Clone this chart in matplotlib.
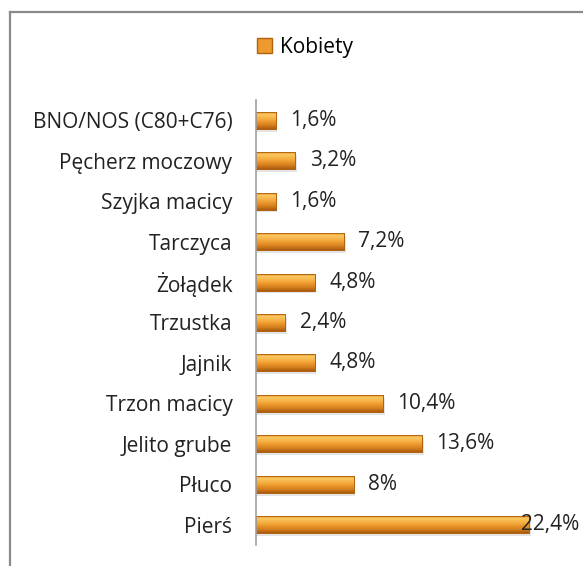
import matplotlib
matplotlib.use("Agg")
import matplotlib.pyplot as plt
import numpy as np
from matplotlib.lines import Line2D
from matplotlib.patches import Patch
from matplotlib.colors import LinearSegmentedColormap

categories = ["BNO/NOS (C80+C76)", "Pęcherz moczowy", "Szyjka macicy", "Tarczyca",
              "Żołądek", "Trzustka", "Jajnik", "Trzon macicy", "Jelito grube",
              "Płuco", "Pierś"]
values = [1.6, 3.2, 1.6, 7.2, 4.8, 2.4, 4.8, 10.4, 13.6, 8.0, 22.4]
value_labels = ["1,6%", "3,2%", "1,6%", "7,2%", "4,8%", "2,4%", "4,8%", "10,4%",
                "13,6%", "8%", "22,4%"]
series_name = "Kobiety"

plt.rcParams['font.family'] = ['Open Sans', 'DejaVu Sans']
W, H = 583, 566
fig = plt.figure(figsize=(W / 100, H / 100), dpi=100)
left, right = 256 / W, 579 / W
top, bottom = 1 - 100 / H, 1 - 545 / H
ax = fig.add_axes([left, bottom, right - left, top - bottom])

n = len(categories)
ys = list(range(n))[::-1]  # first category at top
bh = 0.42
fs = 15

# soft shadow
ax.barh([y - 0.07 for y in ys], [v + 0.15 for v in values], height=bh,
        color='#cfcfcf', alpha=0.55, zorder=1, linewidth=0)
bars = ax.barh(ys, values, height=bh, color='#EE9A2E', edgecolor='#B0600F',
               linewidth=0.6, zorder=2)

cmap = LinearSegmentedColormap.from_list(
    'bevel', [(0.0, '#A85A10'), (0.18, '#D07A1A'), (0.45, '#EE9A2E'),
              (0.72, '#F8BA50'), (0.88, '#FBC85E'), (1.0, '#D88420')])
grad = np.linspace(0, 1, 64).reshape(-1, 1)
for b in bars:
    x0, y0 = b.get_x(), b.get_y()
    im = ax.imshow(grad, cmap=cmap, origin='lower', aspect='auto',
                   extent=(x0, x0 + b.get_width(), y0, y0 + b.get_height()),
                   zorder=3, interpolation='bilinear')
    im.set_clip_path(b)
    ax.barh(y0 + b.get_height() / 2, b.get_width(), height=b.get_height(),
            left=x0, fill=False, edgecolor='#B0600F', linewidth=0.6, zorder=4)

xmax = (579 - 256) / (273 / 22.4)
ax.set_xlim(0, xmax)
ax.set_ylim(-0.5, n - 0.5)
ax.set_yticks(ys)
ax.set_yticklabels(categories, fontsize=fs, color='#222222')
ax.tick_params(axis='y', length=0, pad=17)
ax.set_xticks([])
for s in ['top', 'right', 'bottom']:
    ax.spines[s].set_visible(False)
ax.spines['left'].set_color('#a0a0a0')
ax.spines['left'].set_linewidth(1.2)
ax.spines['left'].set_zorder(6)

for y, v, lab in zip(ys, values, value_labels):
    if v > 20:
        ax.text(1.0, y, lab, transform=ax.get_yaxis_transform(), ha='right',
                va='center', fontsize=fs, color='#222222', zorder=5)
    else:
        ax.annotate(lab, (v, y), xytext=(10.5, 0), textcoords='offset points',
                    ha='left', va='center', fontsize=fs, color='#222222')

handles = [Patch(facecolor='#EE9A2E', edgecolor='#B0600F', label=series_name)]
fig.legend(handles=handles, loc='center', bbox_to_anchor=(305 / W, 1 - 47 / H),
           frameon=False, fontsize=fs, handlelength=0.7, handleheight=0.7,
           handletextpad=0.4)

# outer border (left and top)
fig.add_artist(Line2D([9.5 / W, 9.5 / W], [0, 1 - 11.5 / H], color='#8a8a8a', lw=1.6,
                      transform=fig.transFigure))
fig.add_artist(Line2D([9.5 / W, 1], [1 - 11.5 / H, 1 - 11.5 / H], color='#8a8a8a', lw=1.6,
                      transform=fig.transFigure))

fig.savefig("out.png", dpi=100)
